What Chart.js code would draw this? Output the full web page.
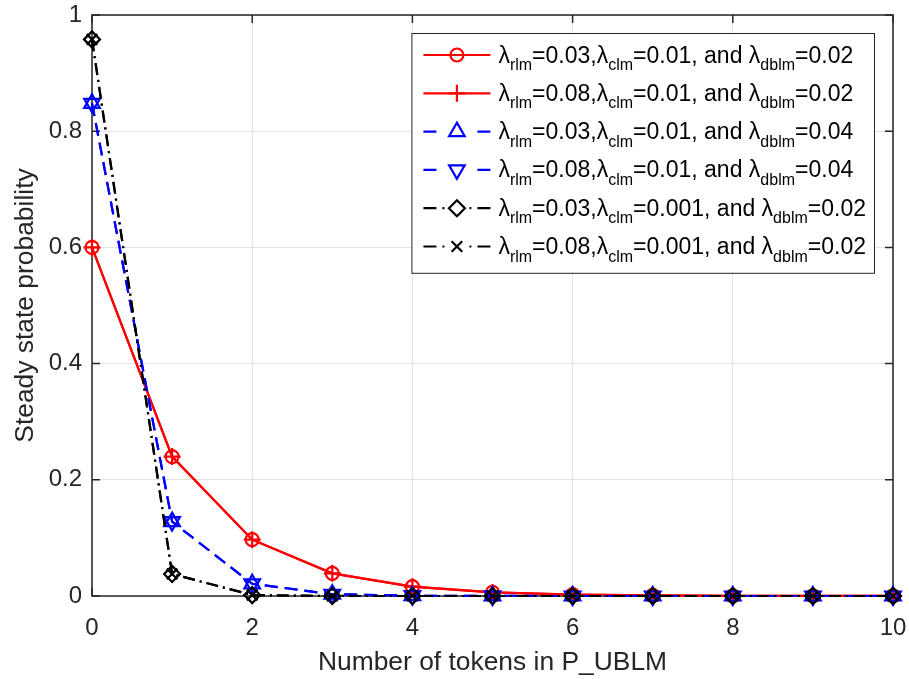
<!DOCTYPE html>
<html>
<head>
<meta charset="utf-8">
<script src="https://cdn.jsdelivr.net/npm/chart.js@4.4.0/dist/chart.umd.min.js"></script>
<style>
  html, body { margin: 0; padding: 0; background: #fff; }
  #wrap { width: 909px; height: 679px; }
</style>
</head>
<body>
<div id="wrap"><canvas id="prob-chart"></canvas></div>
<script>
// number of tokens in P_UBLM
const tokens = [0, 1, 2, 3, 4, 5, 6, 7, 8, 9, 10];

// steady state probability, one array per curve
const probA = [0.6, 0.24, 0.097, 0.039, 0.016, 0.0062, 0.0025, 0.001, 0.0004, 0.00016, 0.00006];
const probB = [0.6, 0.24, 0.097, 0.039, 0.016, 0.0062, 0.0025, 0.001, 0.0004, 0.00016, 0.00006];
const probC = [0.848, 0.128, 0.021, 0.003, 0.0005, 0.00008, 0.00001, 0, 0, 0, 0];
const probD = [0.848, 0.128, 0.021, 0.003, 0.0005, 0.00008, 0.00001, 0, 0, 0, 0];
const probE = [0.958, 0.038, 0.0016, 0.00006, 0, 0, 0, 0, 0, 0, 0];
const probF = [0.958, 0.038, 0.0016, 0.00006, 0, 0, 0, 0, 0, 0, 0];

// legend parameters
const rlmRates = ['0.03', '0.08', '0.03', '0.08', '0.03', '0.08'];
const clmRates = ['0.01', '0.01', '0.01', '0.01', '0.001', '0.001'];
const dblmRates = ['0.02', '0.02', '0.04', '0.04', '0.02', '0.02'];

const xTicks = [0, 2, 4, 6, 8, 10];
const yTicks = [0, 0.2, 0.4, 0.6, 0.8, 1];

const FONT = '"Liberation Sans", Arial, sans-serif';
const AXIS_COLOR = '#262626';

const toPoints = vals => tokens.map((t, i) => ({ x: t, y: vals[i] }));

const styles = [
  { color: '#ff0000', dash: [], legendDash: [], marker: 'circle', r: 6.5 },
  { color: '#ff0000', dash: [], legendDash: [], marker: 'cross', r: 8.5 },
  { color: '#0000ff', dash: [13, 7], legendDash: [13, 40], marker: 'triangle', r: 9 },
  { color: '#0000ff', dash: [13, 7], legendDash: [13, 40], marker: 'triangle', r: 9, rot: 180 },
  { color: '#000000', dash: [12, 5, 2, 5], legendDash: [13, 6, 2, 40], marker: 'rectRot', r: 8 },
  { color: '#000000', dash: [12, 5, 2, 5], legendDash: [13, 6, 2, 40], marker: 'crossRot', r: 7.5 }
];

const series = [probA, probB, probC, probD, probE, probF];

const datasets = series.map((vals, i) => {
  const s = styles[i];
  return {
    label: 'λrlm=' + rlmRates[i] + ',λclm=' + clmRates[i] + ', and λdblm=' + dblmRates[i],
    data: toPoints(vals),
    borderColor: s.color,
    backgroundColor: 'rgba(0,0,0,0)',
    borderWidth: 2.2,
    borderDash: s.dash,
    legendDash: s.legendDash,
    pointStyle: s.marker,
    pointRadius: s.r,
    pointRotation: s.rot || 0,
    pointBorderColor: s.color,
    pointBackgroundColor: 'rgba(0,0,0,0)',
    pointBorderWidth: 2.2,
    tension: 0,
    clip: false,
    order: series.length - 1 - i
  };
});

// axes box with inward ticks, like matlab
const framePlugin = {
  id: 'frame',
  beforeDatasetsDraw(chart) {
    const { ctx, chartArea: a, scales } = chart;
    const len = 8;
    ctx.save();
    ctx.strokeStyle = AXIS_COLOR;
    ctx.lineWidth = 1.5;
    ctx.beginPath();
    xTicks.forEach(v => {
      const px = scales.x.getPixelForValue(v);
      ctx.moveTo(px, a.bottom); ctx.lineTo(px, a.bottom - len);
      ctx.moveTo(px, a.top); ctx.lineTo(px, a.top + len);
    });
    yTicks.forEach(v => {
      const py = scales.y.getPixelForValue(v);
      ctx.moveTo(a.left, py); ctx.lineTo(a.left + len, py);
      ctx.moveTo(a.right, py); ctx.lineTo(a.right - len, py);
    });
    ctx.stroke();
    ctx.strokeRect(a.left, a.top, a.right - a.left, a.bottom - a.top);
    ctx.restore();
  }
};

// legend with subscripts
const legendPlugin = {
  id: 'subLegend',
  afterDraw(chart) {
    const { ctx, chartArea: a } = chart;
    const mainFont = '23px ' + FONT;
    const subFont = '16px ' + FONT;
    const rowH = 38.3;
    const lineLen = 67;

    const parts = i => [
      ['λ', 0], ['rlm', 1], ['=' + rlmRates[i] + ',', 0],
      ['λ', 0], ['clm', 1], ['=' + clmRates[i] + ', and ', 0],
      ['λ', 0], ['dblm', 1], ['=' + dblmRates[i], 0]
    ];
    const measure = i => parts(i).reduce((w, p) => {
      ctx.font = p[1] ? subFont : mainFont;
      return w + ctx.measureText(p[0]).width;
    }, 0);

    const ds = chart.data.datasets;
    let maxW = 0;
    ds.forEach((d, i) => { maxW = Math.max(maxW, measure(i)); });

    const boxW = 12 + lineLen + 8 + maxW + 8;
    const boxH = rowH * ds.length + 10;
    const right = a.right - 19;
    const top = a.top + 18;
    const left = right - boxW;

    ctx.save();
    ctx.fillStyle = '#fff';
    ctx.fillRect(left, top, boxW, boxH);
    ctx.strokeStyle = AXIS_COLOR;
    ctx.lineWidth = 1;
    ctx.strokeRect(left + 0.5, top + 0.5, boxW, boxH);

    ds.forEach((d, i) => {
      const cy = top + 22 + i * rowH;
      const x0 = left + 12;
      const x1 = x0 + lineLen;
      const mid = (x0 + x1) / 2;
      ctx.strokeStyle = d.borderColor;
      ctx.lineWidth = 2.2;
      ctx.setLineDash(d.legendDash);
      ctx.beginPath();
      ctx.moveTo(x0, cy); ctx.lineTo(mid, cy);
      ctx.moveTo(x1, cy); ctx.lineTo(mid, cy);
      ctx.stroke();
      ctx.setLineDash([]);
      ctx.fillStyle = 'rgba(0,0,0,0)';
      Chart.helpers.drawPoint(ctx, {
        pointStyle: d.pointStyle,
        radius: d.pointRadius,
        rotation: d.pointRotation,
        borderWidth: 2.2
      }, mid, cy);

      let tx = x1 + 8;
      const base = cy + 7.5;
      ctx.fillStyle = '#000';
      ctx.textBaseline = 'alphabetic';
      ctx.textAlign = 'left';
      parts(i).forEach(p => {
        ctx.font = p[1] ? subFont : mainFont;
        ctx.fillText(p[0], tx, p[1] ? base + 7.5 : base);
        tx += ctx.measureText(p[0]).width;
      });
    });
    ctx.restore();
  }
};

const ctx = document.getElementById('prob-chart').getContext('2d');

const probChart = new Chart(ctx, {
  type: 'line',
  data: { datasets: datasets },
  options: {
    responsive: true,
    maintainAspectRatio: false,
    animation: false,
    layout: { padding: { top: 15, right: 16, left: 0, bottom: 0 } },
    plugins: {
      legend: { display: false },
      tooltip: { enabled: false }
    },
    scales: {
      x: {
        type: 'linear',
        min: 0,
        max: 10,
        afterFit: s => { s.height = 83; s.paddingLeft = 0; s.paddingRight = 0; },
        afterBuildTicks: s => { s.ticks = xTicks.map(v => ({ value: v })); },
        grid: { color: '#e3e3e3', lineWidth: 1, drawTicks: false },
        border: { display: false },
        ticks: {
          padding: 18,
          color: AXIS_COLOR,
          font: { family: FONT, size: 24 },
          callback: v => String(v)
        },
        title: {
          display: true,
          text: 'Number of tokens in P_UBLM',
          color: AXIS_COLOR,
          font: { family: FONT, size: 26.4 },
          padding: { top: 0, bottom: 0 }
        }
      },
      y: {
        min: 0,
        max: 1,
        afterFit: s => { s.width = 92; s.paddingTop = 0; s.paddingBottom = 0; },
        afterBuildTicks: s => { s.ticks = yTicks.map(v => ({ value: v })); },
        grid: { color: '#e3e3e3', lineWidth: 1, drawTicks: false },
        border: { display: false },
        ticks: {
          padding: 10,
          color: AXIS_COLOR,
          font: { family: FONT, size: 24 },
          callback: v => String(v)
        },
        title: {
          display: true,
          text: 'Steady state probability',
          color: AXIS_COLOR,
          font: { family: FONT, size: 26.4 },
          padding: { top: 10, bottom: 0 }
        }
      }
    }
  },
  plugins: [framePlugin, legendPlugin]
});
</script>
</body>
</html>
